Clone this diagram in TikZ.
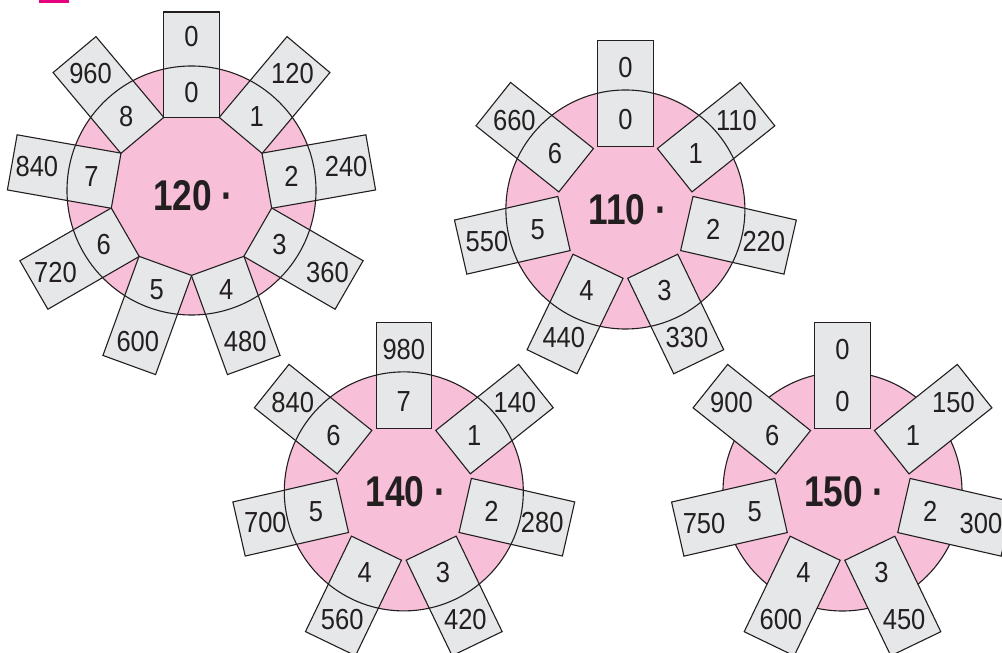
\documentclass[tikz,border=0pt]{standalone}
\usepackage{fontspec}
\newfontfamily\numfont[FakeStretch=0.88]{Liberation Sans}
\newfontfamily\bignumfont[FakeStretch=0.82]{Liberation Sans}
\definecolor{pinkc}{RGB}{247,192,216}
\definecolor{boxc}{RGB}{230,231,232}
\definecolor{linec}{RGB}{35,31,32}
\definecolor{magc}{RGB}{230,0,126}
\begin{document}
\begin{tikzpicture}[x=1pt,y=1pt,
  numbox/.style={draw=linec, fill=boxc, line width=1.1pt, minimum width=106pt,
    minimum height=55.5pt, inner sep=0pt, outer sep=0pt},
  num/.style={font=\numfont\fontsize{29}{29}\selectfont, inner sep=0pt, text=linec},
  big/.style={font=\bignumfont\bfseries\fontsize{43}{43}\selectfont, inner sep=0pt, text=linec},
  ring/.style={draw=linec, line width=1.1pt}]
\useasboundingbox (0,0) rectangle (1002,653);
\clip (0,0) rectangle (1002,653);
\fill[magc] (39,653) rectangle (69,650);
% wheel 1
\begin{scope}[shift={(191.5,459)}]
  \fill[pinkc] (0,3.5) circle[radius=124.5];
  \foreach \a/\i/\o [count=\k from 0] in {90/0/0,50/1/120,10/2/240,-30/3/360,-70/4/480,-110/5/600,-150/6/720,170/7/840,130/8/960}{
    \node[numbox, minimum width=105.5pt, minimum height=56pt, rotate=\a] (w1b\k) at (\a:129.25) {};
    \node[num] (w1i\k) at (\a:101.5) {\i};
    \node[num] (w1o\k) at (\a:157) {\o};
  }
  \draw[ring] (0,3.5) circle[radius=124.5];
  \node[big] (w1c) at (2,-2) {120 ·};
\end{scope}
% wheel 2
\begin{scope}[shift={(625.4,443.5)}]
  \fill[pinkc] (0,0) circle[radius=119.5];
  \foreach \a/\i/\o [count=\k from 0] in {90/0/0,38.571/1/110,-12.857/2/220,-64.286/3/330,-115.714/4/440,-167.143/5/550,141.429/6/660}{
    \node[numbox, rotate=\a] (w2b\k) at (\a:116) {};
    \node[num] (w2i\k) at (\a:90) {\i};
    \node[num] (w2o\k) at (\a:142) {\o};
  }
  \draw[ring] (0,0) circle[radius=119.5];
  \node[big] (w2c) at (2.5,-0.5) {110 ·};
\end{scope}
% wheel 3
\begin{scope}[shift={(403.8,161.6)}]
  \fill[pinkc] (0,0) circle[radius=119.5];
  \foreach \a/\i/\o [count=\k from 0] in {90/7/980,38.571/1/140,-12.857/2/280,-64.286/3/420,-115.714/4/560,-167.143/5/700,141.429/6/840}{
    \node[numbox, rotate=\a] (w3b\k) at (\a:116) {};
    \node[num] (w3i\k) at (\a:90) {\i};
    \node[num] (w3o\k) at (\a:142) {\o};
  }
  \draw[ring] (0,0) circle[radius=119.5];
  \node[big] (w3c) at (2,0) {140 ·};
\end{scope}
% wheel 4
\begin{scope}[shift={(842.5,161.5)}]
  \filldraw[fill=pinkc, ring] (0,0) circle[radius=119.5];
  \foreach \a/\i/\o [count=\k from 0] in {90/0/0,38.571/1/150,-12.857/2/300,-64.286/3/450,-115.714/4/600,-167.143/5/750,141.429/6/900}{
    \node[numbox, rotate=\a] (w4b\k) at (\a:116) {};
    \node[num] (w4i\k) at (\a:90) {\i};
    \node[num] (w4o\k) at (\a:142) {\o};
  }
  \node[big] (w4c) at (2,0) {150 ·};
\end{scope}
\end{tikzpicture}
\end{document}
